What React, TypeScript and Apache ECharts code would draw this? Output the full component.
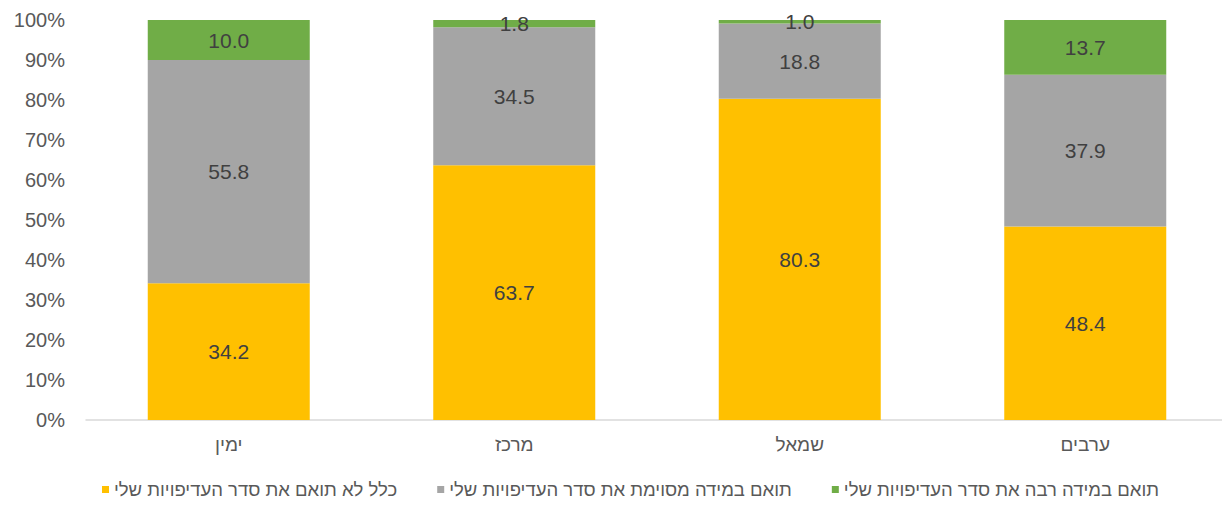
import React, { useEffect, useRef } from "react";
import * as echarts from "echarts";

const categories = ["ימין", "מרכז", "שמאל", "ערבים"];
const seriesNames = [
  "כלל לא תואם את סדר העדיפויות שלי",
  "תואם במידה מסוימת את סדר העדיפויות שלי",
  "תואם במידה רבה את סדר העדיפויות שלי",
];
const notAtAll = [34.2, 63.7, 80.3, 48.4];
const somewhat = [55.8, 34.5, 18.8, 37.9];
const greatly = [10.0, 1.8, 1.0, 13.7];
const colors = ["#FFC000", "#A5A5A5", "#70AD47"];

const FONT = "Liberation Sans, Arial, sans-serif";

export default function App() {
  const ref = useRef<HTMLDivElement>(null);
  useEffect(() => {
    if (!ref.current) return;
    const chart = echarts.init(ref.current, null, { renderer: "svg" });
    const values = [notAtAll, somewhat, greatly];
    chart.setOption({
      animation: false,
      grid: { left: 86, right: 2, top: 20, bottom: 86 },
      legend: {
        bottom: 2,
        left: 97,
        itemWidth: 7,
        itemHeight: 7,
        itemGap: 40,
        icon: "rect",
        textStyle: { color: "#595959", fontSize: 18.5, fontFamily: FONT },
        data: seriesNames,
      },
      xAxis: {
        type: "category",
        data: categories,
        axisLine: { lineStyle: { color: "#D9D9D9", width: 1.5 } },
        axisTick: { show: false },
        axisLabel: { color: "#595959", fontSize: 19, margin: 15, fontFamily: FONT },
      },
      yAxis: {
        type: "value",
        min: 0,
        max: 100,
        interval: 10,
        splitLine: { show: false },
        axisLine: { show: false },
        axisTick: { show: false },
        axisLabel: {
          color: "#595959",
          fontSize: 20,
          margin: 21,
          fontFamily: FONT,
          formatter: (v: number) => v + "%",
        },
      },
      series: seriesNames.map((name, i) => ({
        name,
        type: "bar",
        stack: "total",
        barWidth: 162,
        itemStyle: { color: colors[i] },
        data: values[i],
        label: {
          show: true,
          position: "inside",
          color: "#404040",
          fontSize: 21,
          fontFamily: FONT,
          formatter: (p: any) => Number(p.value).toFixed(1),
        },
      })),
    });
    return () => chart.dispose();
  }, []);
  return (
    <div
      ref={ref}
      style={{ position: "fixed", left: 0, top: 0, width: 1230, height: 506, background: "#fff" }}
    />
  );
}
